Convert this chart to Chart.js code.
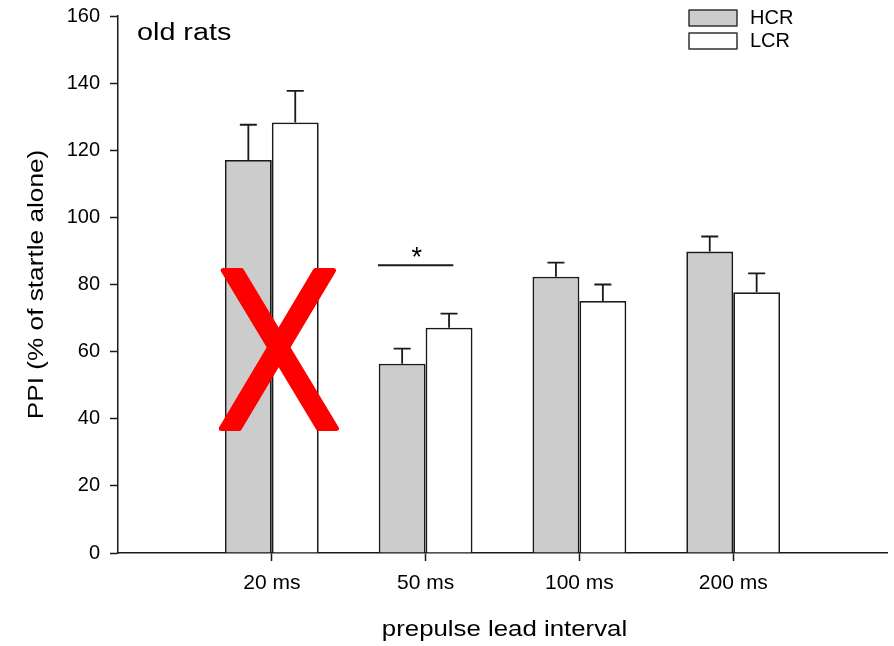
<!DOCTYPE html>
<html>
<head>
<meta charset="utf-8">
<script src="https://cdn.jsdelivr.net/npm/chart.js@4.4.0/dist/chart.umd.min.js"></script>
<style>
  body { margin: 0; background: #fff; }
  #wrap { width: 894px; height: 646px; }
</style>
</head>
<body>
<div id="wrap"><canvas id="myChart"></canvas></div>
<script>
// blank slots at both ends so the groups sit like on the original axis
var labels = ['', '20 ms', '50 ms', '100 ms', '200 ms', ''];
var hcr = [null, 117.1, 56.4, 82.3, 89.8, null];
var lcr = [null, 128.3, 67.1, 75.1, 77.7, null];
var hcrErr = [null, 10.5, 4.5, 4.2, 4.5, null];
var lcrErr = [null, 9.4, 4.2, 4.9, 5.6, null];
var yTicks = [0, 20, 40, 60, 80, 100, 120, 140, 160];

var font = "'Liberation Sans', Arial, sans-serif";
var ink = '#1a1a1a';

// stretched text, the source figure used a wider face for titles
function wideText(ctx, txt, px, py, sx, rot) {
  ctx.save();
  ctx.translate(px, py);
  if (rot) ctx.rotate(rot);
  ctx.scale(sx, 1);
  ctx.fillText(txt, 0, 0);
  ctx.restore();
}

// whiskers, the * line, the red X, the legend and the titles
var extras = {
  id: 'extras',
  afterDatasetsDraw: function(chart) {
    var ctx = chart.ctx;
    var x = chart.scales.x, y = chart.scales.y;
    var area = chart.chartArea;
    var sets = [[hcrErr, 0], [lcrErr, 1]];
    ctx.save();
    ctx.strokeStyle = ink;
    ctx.lineWidth = 1.8;
    sets.forEach(function(s) {
      var meta = chart.getDatasetMeta(s[1]);
      var vals = chart.data.datasets[s[1]].data;
      meta.data.forEach(function(bar, i) {
        if (vals[i] == null) return;
        var top = y.getPixelForValue(vals[i] + s[0][i]);
        ctx.beginPath();
        ctx.moveTo(bar.x, bar.y);
        ctx.lineTo(bar.x, top);
        ctx.moveTo(bar.x - 8.5, top);
        ctx.lineTo(bar.x + 8.5, top);
        ctx.stroke();
      });
    });

    // significance bar over 50 ms
    var sy = y.getPixelForValue(85.7);
    ctx.lineWidth = 2;
    ctx.beginPath();
    ctx.moveTo(x.getPixelForValue(1.69), sy);
    ctx.lineTo(x.getPixelForValue(2.18), sy);
    ctx.stroke();
    ctx.fillStyle = '#000';
    ctx.font = '27px ' + font;
    ctx.textAlign = 'center';
    ctx.textBaseline = 'middle';
    ctx.fillText('*', x.getPixelForValue(1.943), y.getPixelForValue(87.8));

    // red X over the 20 ms group, two slanted strokes with flat ends
    var arms = [[0.743, 84.2, 1.362, 37.1], [1.343, 84.2, 0.730, 37.1]];
    ctx.fillStyle = '#ff0000';
    ctx.strokeStyle = '#ff0000';
    ctx.lineJoin = 'round';
    ctx.lineWidth = 5;
    arms.forEach(function(a) {
      var x1 = x.getPixelForValue(a[0]), y1 = y.getPixelForValue(a[1]);
      var x2 = x.getPixelForValue(a[2]), y2 = y.getPixelForValue(a[3]);
      ctx.beginPath();
      ctx.moveTo(x1 - 9, y1);
      ctx.lineTo(x1 + 9, y1);
      ctx.lineTo(x2 + 9, y2);
      ctx.lineTo(x2 - 9, y2);
      ctx.closePath();
      ctx.fill();
      ctx.stroke();
    });

    // inset title
    ctx.fillStyle = '#000';
    ctx.textAlign = 'left';
    ctx.textBaseline = 'alphabetic';
    ctx.font = '23px ' + font;
    wideText(ctx, 'old rats', area.left + 19, 39.5, 1.25);

    // axis titles
    ctx.textAlign = 'center';
    ctx.textBaseline = 'middle';
    ctx.font = '21.5px ' + font;
    wideText(ctx, 'prepulse lead interval', (area.left + area.right) / 2 + 2, 630, 1.2);
    wideText(ctx, 'PPI (% of startle alone)', 37, (area.top + area.bottom) / 2, 1.22, -Math.PI / 2);

    // legend
    var items = [['HCR', '#cccccc'], ['LCR', '#ffffff']];
    ctx.textAlign = 'left';
    ctx.font = '20px ' + font;
    items.forEach(function(it, k) {
      var by = 10 + k * 23;
      ctx.fillStyle = it[1];
      ctx.fillRect(689, by, 48, 16);
      ctx.strokeStyle = '#333';
      ctx.lineWidth = 1.5;
      ctx.strokeRect(689, by, 48, 16);
      ctx.fillStyle = '#000';
      ctx.fillText(it[0], 750, by + 8.5);
    });
    ctx.restore();
  }
};

new Chart(document.getElementById('myChart'), {
  type: 'bar',
  data: {
    labels: labels,
    datasets: [
      { label: 'HCR', data: hcr, backgroundColor: '#cccccc', borderColor: ink, borderWidth: 1.8,
        categoryPercentage: 0.61, barPercentage: 1 },
      { label: 'LCR', data: lcr, backgroundColor: '#ffffff', borderColor: ink, borderWidth: 1.8,
        categoryPercentage: 0.61, barPercentage: 1 }
    ]
  },
  options: {
    responsive: true,
    maintainAspectRatio: false,
    animation: false,
    layout: { padding: { top: 16, right: 7, left: 0, bottom: 0 } },
    plugins: { legend: { display: false }, tooltip: { enabled: false } },
    scales: {
      x: {
        offset: false,
        grid: {
          offset: false,
          drawOnChartArea: false,
          tickLength: 8,
          tickWidth: 1.5,
          tickColor: function(c) { return labels[c.index] ? ink : 'rgba(0,0,0,0)'; }
        },
        border: { color: ink, width: 1.5 },
        ticks: { color: '#000', font: { family: font, size: 21 }, padding: 10, maxRotation: 0, autoSkip: false },
        afterFit: function(s) { s.height = 93; s.paddingLeft = 0; s.paddingRight = 0; }
      },
      y: {
        min: 0, max: 160,
        afterBuildTicks: function(s) { s.ticks = yTicks.map(function(v) { return { value: v }; }); },
        grid: { drawOnChartArea: false, tickLength: 8, tickWidth: 1.5, tickColor: ink },
        border: { color: ink, width: 1.5 },
        ticks: { color: '#000', font: { family: font, size: 20 }, padding: 10 },
        afterFit: function(s) { s.width = 118; s.paddingTop = 0; s.paddingBottom = 0; }
      }
    }
  },
  plugins: [extras]
});
</script>
</body>
</html>
